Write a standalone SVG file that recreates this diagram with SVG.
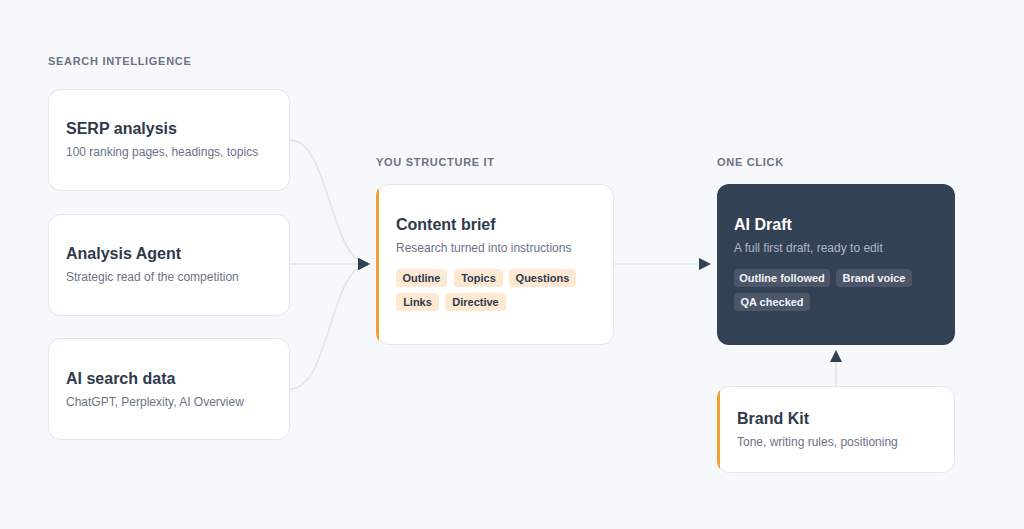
<svg xmlns="http://www.w3.org/2000/svg" width="1024" height="529" viewBox="0 0 1024 529">
<defs>
<style>
.sec{font-family:"Liberation Sans",Arial,sans-serif;font-size:11px;font-weight:700;letter-spacing:0.7px;fill:#6b7385}
.card{fill:#ffffff;stroke:#e3e6ec;stroke-width:1}
.t{font-family:"Liberation Sans",Arial,sans-serif;font-size:16px;font-weight:700;fill:#2f3a4d}
.s{font-family:"Liberation Sans",Arial,sans-serif;font-size:12px;fill:#6b7385}
.tag{fill:#fde9d2}
.tt{font-family:"Liberation Sans",Arial,sans-serif;font-size:11px;font-weight:700;fill:#2f3a4d;text-anchor:middle}
.dtag{fill:#4b5669}
.dtt{font-family:"Liberation Sans",Arial,sans-serif;font-size:11px;font-weight:700;fill:#f1f3f7;text-anchor:middle}
.conn{fill:none;stroke:#e1e4ea;stroke-width:1.5}
</style>
<marker id="arr" viewBox="0 0 12 12" refX="11" refY="6" markerWidth="12" markerHeight="12" markerUnits="userSpaceOnUse" orient="auto">
<path d="M0,0 L12,6 L0,12 Z" fill="#334155"/>
</marker>
<clipPath id="c1"><rect x="376" y="184" width="238" height="161" rx="12"/></clipPath>
<clipPath id="c2"><rect x="717" y="386" width="238" height="87" rx="12"/></clipPath>
</defs>
<rect width="1024" height="529" fill="#f7f8fb"/>

<text class="sec" x="48" y="65">SEARCH INTELLIGENCE</text>
<text class="sec" x="376" y="166">YOU STRUCTURE IT</text>
<text class="sec" x="717" y="166">ONE CLICK</text>

<g id="connectors">
<path class="conn" d="M290,140 C330,140 330,264 369,264" marker-end="url(#arr)"/>
<path class="conn" d="M290,264 L369,264" marker-end="url(#arr)"/>
<path class="conn" d="M290,389 C330,389 330,264 369,264" marker-end="url(#arr)"/>
<path class="conn" d="M614,264 L710,264" marker-end="url(#arr)"/>
<path class="conn" d="M836,386 L836,351" marker-end="url(#arr)"/>
</g>

<g id="serp">
<rect class="card" x="48.5" y="89.5" width="241" height="101" rx="12"/>
<text class="t" x="66" y="134">SERP analysis</text>
<text class="s" x="66" y="156">100 ranking pages, headings, topics</text>
</g>

<g id="agent">
<rect class="card" x="48.5" y="214.5" width="241" height="101" rx="12"/>
<text class="t" x="66" y="259">Analysis Agent</text>
<text class="s" x="66" y="281">Strategic read of the competition</text>
</g>

<g id="aisearch">
<rect class="card" x="48.5" y="338.5" width="241" height="101" rx="12"/>
<text class="t" x="66" y="384">AI search data</text>
<text class="s" x="66" y="406">ChatGPT, Perplexity, AI Overview</text>
</g>

<g id="brief">
<rect class="card" x="376.5" y="184.5" width="237" height="160" rx="12"/>
<rect x="376" y="184" width="3" height="161" fill="#f0a030" clip-path="url(#c1)"/>
<text class="t" x="396" y="230">Content brief</text>
<text class="s" x="396" y="252">Research turned into instructions</text>
<rect class="tag" x="396" y="269" width="51" height="18" rx="4"/>
<text class="tt" x="421.5" y="282">Outline</text>
<rect class="tag" x="454" y="269" width="49" height="18" rx="4"/>
<text class="tt" x="478.5" y="282">Topics</text>
<rect class="tag" x="509" y="269" width="67" height="18" rx="4"/>
<text class="tt" x="542.5" y="282">Questions</text>
<rect class="tag" x="396" y="293" width="43" height="18" rx="4"/>
<text class="tt" x="417.5" y="306">Links</text>
<rect class="tag" x="445" y="293" width="61" height="18" rx="4"/>
<text class="tt" x="475.5" y="306">Directive</text>
</g>

<g id="draft">
<rect x="717" y="184" width="238" height="161" rx="12" fill="#334155"/>
<text class="t" x="734" y="230" style="fill:#ffffff">AI Draft</text>
<text class="s" x="734" y="252" style="fill:#aeb6c4">A full first draft, ready to edit</text>
<rect class="dtag" x="734" y="269" width="96" height="18" rx="4"/>
<text class="dtt" x="782" y="282">Outline followed</text>
<rect class="dtag" x="836" y="269" width="76" height="18" rx="4"/>
<text class="dtt" x="874" y="282">Brand voice</text>
<rect class="dtag" x="734" y="293" width="76" height="18" rx="4"/>
<text class="dtt" x="772" y="306">QA checked</text>
</g>

<g id="brandkit">
<rect class="card" x="717.5" y="386.5" width="237" height="86" rx="12"/>
<rect x="717" y="386" width="3" height="87" fill="#f0a030" clip-path="url(#c2)"/>
<text class="t" x="737" y="424">Brand Kit</text>
<text class="s" x="737" y="446">Tone, writing rules, positioning</text>
</g>
</svg>
